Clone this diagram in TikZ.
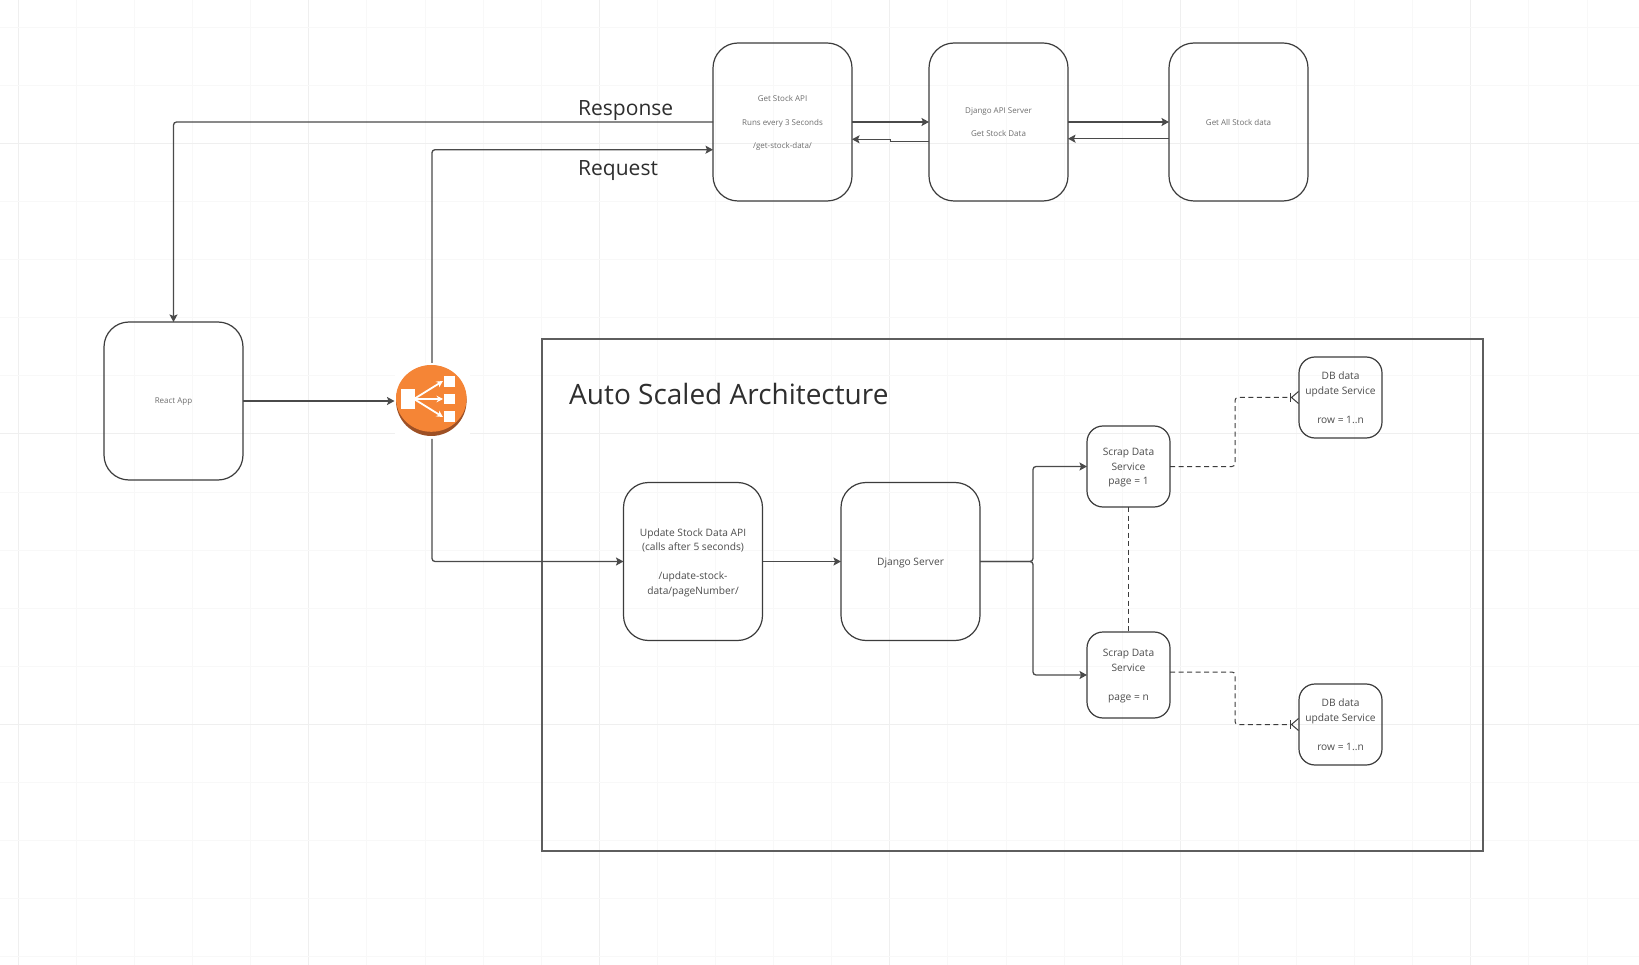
\documentclass[tikz,border=0pt]{standalone}
\usepackage{fontspec}
\setmainfont{Open Sans}
\usetikzlibrary{
    arrows.meta,
    positioning,
    calc
}
\definecolor{gridminor}{HTML}{F8F8F8}
\definecolor{gridmajor}{HTML}{EFEFEF}
\definecolor{wire}{HTML}{4A4A4A}
\definecolor{outline}{HTML}{3C3C3C}
\definecolor{faint}{HTML}{6E6E6E}
\definecolor{body}{HTML}{4C4C4C}
\definecolor{heading}{HTML}{2E2E2E}
\definecolor{frame}{HTML}{5E5E5E}
\definecolor{balancerfill}{HTML}{F58536}
\definecolor{balancerdark}{HTML}{9D5025}
\tikzset{
    % Large rounded service box
    bigbox/.style={
        rectangle,
        rounded corners=25pt,
        minimum width=139pt,
        minimum height=158pt,
        inner sep=0pt,
        outer sep=0pt,
        align=center,
        draw=outline,
        line width=1.2pt
    },
    % Text sizes inside the boxes
    faint text/.style={
        text=faint,
        font=\fontsize{8}{11.6}\selectfont,
        text depth=-1.5pt
    },
    body text/.style={
        text=body,
        font=\fontsize{10.2}{14.6}\selectfont,
        text depth=-3pt
    },
    % Small rounded service box
    smallbox/.style={
        bigbox,
        body text,
        rounded corners=16pt,
        minimum width=83pt,
        minimum height=81pt
    },
    % Arrow styles
    flow/.style={
        -{Stealth[length=7.5pt, width=8pt, inset=1.5pt]},
        line width=1.3pt,
        color=wire,
        rounded corners=3pt
    },
    dashflow/.style={
        line width=1pt,
        color=outline,
        dash pattern=on 5pt off 3.5pt,
        rounded corners=3pt
    },
    crowfoot/.style={
        dashflow,
        -{Bar[width=9pt, line width=1.2pt, sep=0pt]Straight Barb[reversed, length=7pt, width=12pt, line width=1pt]}
    },
    % Label style
    flow label/.style={
        anchor=west,
        text=heading,
        inner sep=0pt,
        font=\fontsize{21}{25}\selectfont
    }
}
\begin{document}
\begin{tikzpicture}[x=1pt, y=-1pt]
        \useasboundingbox (0,0) rectangle (1639,965);
        \fill[white] (0,0) rectangle (1639,965);

        % Grid
        \foreach \i in {0,...,28} {
            \pgfmathtruncatemacro{\rest}{mod(\i,5)}
            \ifnum\rest=0 \def\gridcol{gridmajor}\else \def\gridcol{gridminor}\fi
            \draw[\gridcol, line width=1pt] ({18.3+58.1*\i},0) -- ({18.3+58.1*\i},965);
        }
        \foreach \j in {0,...,16} {
            \pgfmathtruncatemacro{\rest}{mod(\j+3,5)}
            \ifnum\rest=0 \def\gridcol{gridmajor}\else \def\gridcol{gridminor}\fi
            \draw[\gridcol, line width=1pt] (0,{27.3+58.1*\j}) -- (1639,{27.3+58.1*\j});
        }

        % Container
        \node[draw=frame, line width=2pt, minimum width=941pt, minimum height=512.5pt, inner sep=0pt] (scaled) at (1012.5, 595) {};
        \node[flow label, font=\fontsize{28}{33}\selectfont] (scaledtitle) at (569, 394.5) {Auto Scaled Architecture};

        % Top row
        \node[bigbox, faint text] (getapi) at (782.5, 122) {Get Stock API\\[\baselineskip]Runs every 3 Seconds\\[\baselineskip]/get-stock-data/};
        \node[bigbox, faint text] (djapi) at (998.5, 122) {Django API Server\\[\baselineskip]Get Stock Data};
        \node[bigbox, faint text] (getall) at (1238.5, 122) {Get All Stock data};

        % Client
        \node[bigbox, faint text] (react) at (173.5, 401) {React App};

        % Balancer
        \node[fill=white, minimum width=75pt, minimum height=76pt, inner sep=0pt, outer sep=0pt] (balancer) at (432, 401) {};
        \fill[balancerdark] (431.3, 400.7) circle (35.3);
        \fill[balancerfill] (431.3, 398.4) ellipse (35.3 and 33.4);
        \fill[white] (401.3, 389) rectangle (415, 409);
        \fill[white] (443.5, 376) rectangle (454.5, 386.7);
        \fill[white] (443.5, 393.7) rectangle (454.5, 404.3);
        \fill[white] (443.5, 411.3) rectangle (454.5, 422.3);
        \foreach \ty in {381, 399, 417} {
            \draw[white, line width=1.8pt, -{Stealth[length=6.5pt, width=6.5pt]}] (414, 399) -- (443, \ty);
        }

        % Auto scaled flow
        \node[bigbox, body text] (updateapi) at (693, 561.5) {Update Stock Data API\\(calls after 5 seconds)\\[\baselineskip]/update-stock-\\data/pageNumber/};
        \node[bigbox, body text] (djserver) at (910.5, 561.5) {Django Server};
        \node[smallbox] (scrapone) at (1128.5, 466.5) {Scrap Data\\Service\\page = 1};
        \node[smallbox, minimum height=86pt] (scrapn) at (1128.5, 675) {Scrap Data\\Service\\[\baselineskip]page = n};
        \node[smallbox] (dbone) at (1340.5, 397.5) {DB data\\update Service\\[\baselineskip]row = 1..n};
        \node[smallbox] (dbn) at (1340.5, 724.5) {DB data\\update Service\\[\baselineskip]row = 1..n};

        % Labels
        \node[flow label] (response) at (578, 111) {Response};
        \node[flow label] (request) at (578, 171) {Request};

        % Connections
        \draw[flow] (getapi.west) -| (react.north);
        \draw[flow] (balancer.north) |- ([yshift=-27.7pt]getapi.west);
        \draw[flow] (react.east) -- (balancer.west);
        \draw[flow] (balancer.south) |- (updateapi.west);

        \draw[flow] (getapi.east) -- (djapi.west);
        \draw[flow, rounded corners=0pt] ([yshift=-19.3pt]djapi.west) -- ++(-38.5,0) |- ([yshift=-17.3pt]getapi.east);
        \draw[flow] (djapi.east) -- (getall.west);
        \draw[flow] ([yshift=-16.7pt]getall.west) -- ([yshift=-16.7pt]djapi.east);

        \draw[flow] (updateapi.east) -- (djserver.west);
        \draw[flow] (djserver.east) -- ++(53,0) |- (scrapone.west);
        \draw[flow] (djserver.east) -- ++(53,0) |- (scrapn.west);

        \draw[crowfoot] (scrapone.east) -- ++(65,0) |- (dbone.west);
        \draw[crowfoot] ([yshift=3pt]scrapn.east) -- ++(65,0) |- (dbn.west);
        \draw[dashflow] (scrapone.south) -- (scrapn.north);

    \end{tikzpicture}
\end{document}
